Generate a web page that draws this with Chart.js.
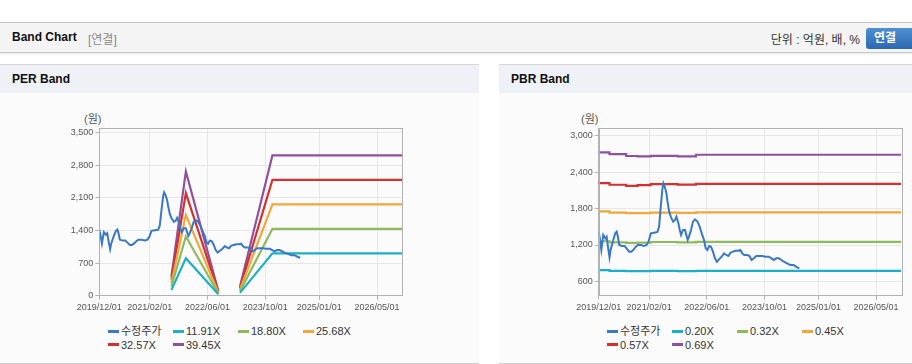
<!DOCTYPE html>
<html>
<head>
<meta charset="utf-8">
<script src="https://cdn.jsdelivr.net/npm/chart.js@4.4.1/dist/chart.umd.min.js"></script>
<style>
  body { margin:0; width:912px; height:364px; overflow:hidden; background:#fff; position:relative;
         font-family:"Liberation Sans", Arial, "Noto Sans CJK KR", sans-serif; }
  #topbar { position:absolute; left:0; top:22px; width:912px; height:29px; background:#f4f4f4;
            border-top:1px solid #c4c4c4; border-bottom:1px solid #c8c8c8; box-shadow:0 1px 2px rgba(0,0,0,0.10); }
  #topbar .title { position:absolute; left:12px; top:7px; font-size:12px; font-weight:bold; color:#111; }
  #topbar .sub { position:absolute; left:88px; top:7px; font-size:12px; color:#888; }
  #topbar .unit { position:absolute; right:52px; top:7px; font-size:12px; color:#333; }
  #topbar .btn { position:absolute; left:866px; top:5px; width:46px; height:21px; border-radius:3px 0 0 3px;
                 background:linear-gradient(#4f8fd3,#2b68b0); color:#fff; font-size:12px; font-weight:bold;
                 line-height:21px; text-indent:8px; }
  .panel { position:absolute; top:64px; height:298px; background:#fbfbfb; border-top:1px solid #d8d8d8; border-bottom:1px solid #cfcfcf; }
  .panel .head { height:28px; background:#eef2f6; font-size:12px; font-weight:bold; color:#111; line-height:29px; padding-left:12px; }
  canvas { position:absolute; }
  .unitlbl { position:absolute; top:110px; font-size:11px; color:#555; }
  .legend { position:absolute; font-size:11px; color:#333; }
  .legend .item { position:absolute; white-space:nowrap; line-height:14px; }
  .legend .mark { display:inline-block; width:11px; height:3px; vertical-align:middle; margin-right:2px; position:relative; top:-1px; }
</style>
</head>
<body>
<div id="topbar">
  <div class="title">Band Chart</div>
  <div class="sub">[연결]</div>
  <div class="unit">단위 : 억원, 배, %</div>
  <div class="btn">연결</div>
</div>

<div class="panel" style="left:0;width:479px"><div class="head">PER Band</div></div>
<div class="panel" style="left:499px;width:413px"><div class="head">PBR Band</div></div>

<div class="unitlbl" style="left:84px">(원)</div>
<div class="unitlbl" style="left:581px">(원)</div>

<canvas id="per" width="479" height="225" style="left:0;top:93px"></canvas>
<canvas id="pbr" width="413" height="225" style="left:499px;top:93px"></canvas>

<div class="legend" id="perLegend"></div>
<div class="legend" id="pbrLegend"></div>

<script>
// x axis
const xTickLabels = ['2019/12/01', '2021/02/01', '2022/06/01', '2023/10/01', '2025/01/01', '2026/05/01'];
const xStart = '2019/12/01';
const xEnd = '2026/12/01';

// adjusted share price (수정주가)
const priceDates = [
  '2019/12/01','2019/12/12','2019/12/23','2020/01/09','2020/01/26','2020/02/07','2020/02/18','2020/03/01',
  '2020/03/10','2020/03/21','2020/04/02','2020/04/19','2020/05/01','2020/05/11','2020/05/22','2020/06/14',
  '2020/07/07','2020/07/23','2020/08/15','2020/09/02','2020/09/18','2020/10/11','2020/10/27','2020/11/22',
  '2020/12/20','2021/01/09','2021/01/26','2021/02/15','2021/03/13','2021/04/10','2021/04/24','2021/05/08',
  '2021/05/22','2021/05/30','2021/06/11','2021/06/25','2021/07/04','2021/07/18','2021/08/01','2021/08/21',
  '2021/09/07','2021/09/18','2021/10/05','2021/10/16','2021/10/27','2021/11/13','2021/11/30','2021/12/11',
  '2021/12/22','2022/01/03','2022/01/20','2022/02/06','2022/02/23','2022/03/13','2022/04/02','2022/04/19',
  '2022/05/08','2022/05/22','2022/06/06','2022/06/20','2022/07/06','2022/07/23','2022/08/09','2022/08/26',
  '2022/09/13','2022/10/05','2022/10/24','2022/11/14','2022/11/30','2022/12/19','2023/01/09','2023/02/01',
  '2023/02/23','2023/03/10','2023/03/26','2023/04/13','2023/05/08','2023/05/27','2023/06/14','2023/07/03',
  '2023/07/23','2023/08/15','2023/09/12','2023/10/10','2023/11/08','2023/11/30','2023/12/19','2024/01/09',
  '2024/02/01','2024/02/23','2024/03/12','2024/04/10','2024/05/07','2024/06/05','2024/07/03','2024/07/22'
];
const price = [
  1420, 1283, 1118, 1365, 1310, 1338, 1172, 996,
  1117, 1200, 1283, 1393, 1420, 1338, 1200, 1183,
  1183, 1145, 1090, 1090, 1117, 1172, 1200, 1200,
  1183, 1200, 1255, 1393, 1404, 1415, 1503, 1833,
  2137, 2220, 2164, 2054, 1916, 1751, 1668, 1586,
  1613, 1668, 1558, 1448, 1365, 1448, 1448, 1365,
  1283, 1338, 1448, 1586, 1624, 1586, 1503, 1393,
  1283, 1145, 1117, 1183, 1172, 1090, 980, 924,
  963, 1007, 1062, 1035, 1018, 1073, 1090, 1106,
  1106, 1117, 1062, 1035, 1035, 1018, 952, 980,
  1018, 1018, 1018, 1007, 1007, 980, 952, 980,
  980, 952, 924, 897, 869, 869, 831, 814
];

// PER band (null = no data)
const perBandDates = ['2021/08/01', '2021/12/01', '2022/09/01', '2023/01/01', '2023/03/01', '2023/12/01', '2026/12/01'];
const per1191 = [125, 805, 30, null, 60, 910, 910];
const per1880 = [197, 1271, 47, null, 94, 1436, 1436];
const per2568 = [270, 1736, 64, null, 128, 1962, 1962];
const per3257 = [342, 2202, 81, null, 163, 2488, 2488];
const per3945 = [414, 2667, 99, null, 197, 3014, 3014];
const perNames = ['수정주가', '11.91X', '18.80X', '25.68X', '32.57X', '39.45X'];
const perTicks = [0, 700, 1400, 2100, 2800, 3500];

// PBR band
const pbrBandDates = ['2019/12/01', '2020/03/01', '2020/07/20', '2020/10/25', '2021/02/15', '2021/09/28', '2022/03/01', '2023/09/01', '2026/12/01'];
const pbr020 = [790, 786, 772, 768, 770, 772, 770, 772, 772];
const pbr032 = [1275, 1262, 1245, 1235, 1240, 1250, 1245, 1252, 1252];
const pbr045 = [1773, 1755, 1735, 1725, 1728, 1735, 1730, 1738, 1738];
const pbr057 = [2247, 2222, 2195, 2178, 2190, 2206, 2196, 2208, 2208];
const pbr069 = [2752, 2728, 2700, 2670, 2662, 2672, 2662, 2690, 2690];
const pbrNames = ['수정주가', '0.20X', '0.32X', '0.45X', '0.57X', '0.69X'];
const pbrTicks = [600, 1200, 1800, 2400, 3000];

const colors = ['#3a78c6', '#1bb0c6', '#8dbb5b', '#f0a73b', '#d2312f', '#8f509d'];

function toMonth(s) {
  const [y, m, d] = s.split('/').map(Number);
  const [y0, m0] = xStart.split('/').map(Number);
  return (y - y0) * 12 + (m - m0) + (d - 1) / 30;
}
function pts(dates, vals) {
  return dates.map((d, i) => ({ x: toMonth(d), y: vals[i] }));
}

const frame = {
  id: 'frame',
  afterDatasetsDraw(chart) {
    const a = chart.chartArea, c = chart.ctx;
    c.save();
    c.strokeStyle = '#b2b2b2';
    c.lineWidth = 1;
    c.strokeRect(Math.round(a.left) + 0.5, Math.round(a.top) + 0.5, Math.round(a.right - a.left), Math.round(a.bottom - a.top));
    c.restore();
  }
};

function makeChart(id, bandDates, bands, names, yTicks, yMin, yMax, pad, stepped) {
  const datasets = [{ label: names[0], data: pts(priceDates, price), borderColor: colors[0], borderWidth: 2 }];
  bands.forEach((b, i) => datasets.push({
    label: names[i + 1], data: pts(bandDates, b), borderColor: colors[i + 1], borderWidth: 2.2, stepped: stepped
  }));
  return new Chart(document.getElementById(id), {
    type: 'line',
    data: { datasets: datasets },
    options: {
      responsive: false,
      animation: false,
      devicePixelRatio: 1,
      spanGaps: false,
      layout: { padding: pad },
      elements: { point: { radius: 0 }, line: { tension: 0, fill: false } },
      plugins: { legend: { display: false }, tooltip: { enabled: false } },
      scales: {
        x: {
          type: 'linear', min: 0, max: toMonth(xEnd),
          afterBuildTicks: s => { s.ticks = xTickLabels.map(l => ({ value: toMonth(l) })); },
          afterFit: s => { s.height = 20; },
          grid: { color: '#e6e6e6', tickLength: 4, tickColor: '#b2b2b2' },
          border: { color: '#b2b2b2' },
          ticks: { autoSkip: false, maxRotation: 0, padding: 2, color: '#555', font: { size: 9 },
                   callback: (v, i) => xTickLabels[i] }
        },
        y: {
          min: yMin, max: yMax,
          afterBuildTicks: s => { s.ticks = yTicks.map(v => ({ value: v })); },
          afterFit: s => { s.width = 40; },
          grid: { color: '#e6e6e6', tickLength: 4, tickColor: '#b2b2b2' },
          border: { color: '#b2b2b2' },
          ticks: { padding: 2, color: '#555', font: { size: 9 },
                   callback: v => v.toLocaleString('en-US') }
        }
      }
    },
    plugins: [frame]
  });
}

Chart.defaults.font.family = '"Liberation Sans", Arial, "Noto Sans CJK KR", sans-serif';

makeChart('per', perBandDates, [per1191, per1880, per2568, per3257, per3945], perNames, perTicks, 0, 3593,
          { left: 59.3, top: 35.3, right: 76.7, bottom: 2.3 }, false);
makeChart('pbr', pbrBandDates, [pbr020, pbr032, pbr045, pbr057, pbr069], pbrNames, pbrTicks, 363, 3127,
          { left: 59.7, top: 35.3, right: 10.7, bottom: 2.3 }, 'after');

function legend(elId, names, left) {
  const el = document.getElementById(elId);
  names.forEach((n, i) => {
    const d = document.createElement('div');
    d.className = 'item';
    d.style.left = (left + (i % 4) * 65) + 'px';
    d.style.top = (324 + Math.floor(i / 4) * 13.5) + 'px';
    d.innerHTML = '<span class="mark" style="background:' + colors[i] + '"></span>' + n;
    el.appendChild(d);
  });
}
legend('perLegend', perNames, 108);
legend('pbrLegend', pbrNames, 607);
</script>
</body>
</html>
